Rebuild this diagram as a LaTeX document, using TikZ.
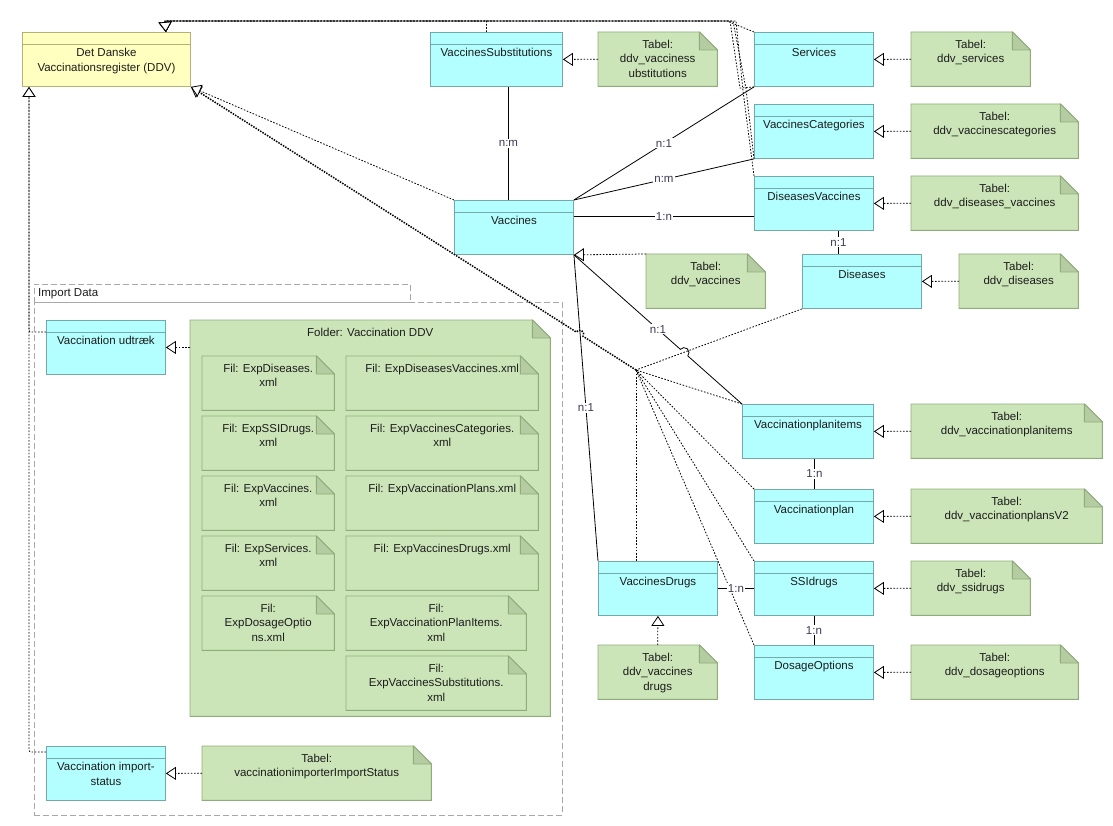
\documentclass[tikz,border=0pt]{standalone}
\usepackage{fontspec}
\setmainfont{Liberation Sans}
\usetikzlibrary{arrows.meta,calc}
\definecolor{clsfill}{HTML}{B3FFFF}
\definecolor{clsborder}{HTML}{74A9A9}
\definecolor{ddvfill}{HTML}{FFFFC0}
\definecolor{ddvborder}{HTML}{B2B276}
\definecolor{notefill}{HTML}{CCE5B8}
\definecolor{noteborder}{HTML}{8FAD7A}
\definecolor{foldfill}{HTML}{B5CCA2}
\definecolor{txtcol}{HTML}{1C1C1C}
\definecolor{lblcol}{HTML}{3A3A55}
\definecolor{pkgcol}{HTML}{A8A8A8}
\tikzset{
  txt/.style={font=\fontsize{11.5}{14.5}\selectfont, text=txtcol, align=center, inner sep=0pt},
  clsbox/.style={draw=clsborder, fill=clsfill, line width=0.9pt, inner sep=0pt, anchor=north west},
  ddvbox/.style={draw=ddvborder, fill=ddvfill, line width=0.9pt, inner sep=0pt, anchor=north west},
  notebody/.style={draw=noteborder, fill=notefill, line width=0.9pt},
  notefold/.style={draw=noteborder, fill=foldfill, line width=0.9pt, line join=round},
  dotline/.style={draw=black, line width=0.8pt, dash pattern=on 1.6pt off 1.6pt},
  trunk/.style={draw=black, line width=1.5pt, dash pattern=on 1.5pt off 1.2pt},
  assoc/.style={draw=black, line width=0.8pt},
  opentri/.style={-{Triangle[open, length=10pt, width=13pt, fill=white, line width=0.8pt]}},
  real/.style={dotline, opentri},
  gen/.style={dotline, opentri},
  mult/.style={font=\fontsize{11.5}{14}\selectfont, text=lblcol, fill=white, inner sep=1pt},
  pkgline/.style={draw=pkgcol, line width=0.9pt, dash pattern=on 6pt off 3pt}
}
\newcommand{\clsnode}[6]{%
  \node[clsbox, minimum width=#4pt, minimum height=#5pt] (#1) at (#2,#3) {};
  \draw[clsborder, line width=0.9pt] ([yshift=-12pt]#1.north west) -- ([yshift=-12pt]#1.north east);
  \node[txt, anchor=north] at ([yshift=-16pt]#1.north) {#6};
}
\newcommand{\notenode}[6]{%
  \node[inner sep=0pt, anchor=north west, minimum width=#4pt, minimum height=#5pt] (#1) at (#2,#3) {};
  \draw[notebody] (#1.north west) -- ([xshift=-18pt]#1.north east) -- ([yshift=-18pt]#1.north east) -- (#1.south east) -- (#1.south west) -- cycle;
  \draw[notefold] ([xshift=-18pt]#1.north east) -- ([xshift=-18pt,yshift=-18pt]#1.north east) -- ([yshift=-18pt]#1.north east) -- cycle;
  \node[txt, anchor=north] at ([yshift=-7.5pt]#1.north) {#6};
}
\begin{document}
\begin{tikzpicture}[x=1pt, y=-1pt]
\useasboundingbox[fill=white] (0,0) rectangle (1113,826);

% package Import Data
\node[pkgline, inner sep=0pt, anchor=north west, minimum width=376pt, minimum height=18pt] (pkgtab) at (34,284) {};
\node[pkgline, inner sep=0pt, anchor=north west, minimum width=528pt, minimum height=513pt] (pkg) at (34,302) {};
\node[txt, anchor=west] at ([xshift=4pt]pkgtab.west) {Import Data};

% DDV
\node[ddvbox, minimum width=168pt, minimum height=54pt] (ddv) at (22,32) {};
\draw[ddvborder, line width=0.9pt] ([yshift=-12pt]ddv.north west) -- ([yshift=-12pt]ddv.north east);
\node[txt, anchor=north] at ([yshift=-16pt]ddv.north) {Det Danske\\Vaccinationsregister (DDV)};

% classes
\clsnode{vs}{430}{32}{132}{54}{VaccinesSubstitutions}
\clsnode{services}{754}{32}{119}{54}{Services}
\clsnode{vc}{754}{104}{119}{54}{VaccinesCategories}
\clsnode{dv}{754}{176}{119}{54}{DiseasesVaccines}
\clsnode{vac}{454}{200}{119}{54}{Vaccines}
\clsnode{dis}{802}{254}{119}{54}{Diseases}
\clsnode{pi}{742}{404}{131}{54}{Vaccinationplanitems}
\clsnode{plan}{754}{489}{119}{54}{Vaccinationplan}
\clsnode{ssi}{754}{561}{119}{54}{SSIdrugs}
\clsnode{vd}{598}{561}{119}{54}{VaccinesDrugs}
\clsnode{dos}{754}{645}{119}{54}{DosageOptions}
\clsnode{udt}{46}{320}{119}{54}{Vaccination udtræk}
\clsnode{ist}{46}{746}{119}{54}{Vaccination import-\\status}

% notes
\notenode{nvs}{598}{32}{119}{54}{Tabel:\\ddv\_vacciness\\ubstitutions}
\notenode{nsv}{911}{32}{119}{54}{Tabel:\\ddv\_services}
\notenode{nvc}{911}{104}{167}{54}{Tabel:\\ddv\_vaccinescategories}
\notenode{ndv}{911}{176}{167}{54}{Tabel:\\ddv\_diseases\_vaccines}
\notenode{nvac}{646}{254}{119}{54}{Tabel:\\ddv\_vaccines}
\notenode{ndis}{959}{254}{119}{54}{Tabel:\\ddv\_diseases}
\notenode{npi}{911}{404}{191}{54}{Tabel:\\ddv\_vaccinationplanitems}
\notenode{nplan}{911}{489}{191}{54}{Tabel:\\ddv\_vaccinationplansV2}
\notenode{nssi}{911}{561}{119}{54}{Tabel:\\ddv\_ssidrugs}
\notenode{ndos}{911}{645}{167}{54}{Tabel:\\ddv\_dosageoptions}
\notenode{nvd}{598}{645}{119}{54}{Tabel:\\ddv\_vaccines\\drugs}
\notenode{nist}{202}{746}{229}{54}{Tabel:\\vaccinationimporterImportStatus}
\notenode{folder}{190}{320}{360}{396}{Folder: Vaccination DDV}
\notenode{f1}{202}{356}{132}{54}{Fil: ExpDiseases.\\xml}
\notenode{f2}{346}{356}{192}{54}{Fil: ExpDiseasesVaccines.xml}
\notenode{f3}{202}{416}{132}{54}{Fil: ExpSSIDrugs.\\xml}
\notenode{f4}{346}{416}{192}{54}{Fil: ExpVaccinesCategories.\\xml}
\notenode{f5}{202}{476}{132}{54}{Fil: ExpVaccines.\\xml}
\notenode{f6}{346}{476}{192}{54}{Fil: ExpVaccinationPlans.xml}
\notenode{f7}{202}{536}{132}{54}{Fil: ExpServices.\\xml}
\notenode{f8}{346}{536}{192}{54}{Fil: ExpVaccinesDrugs.xml}
\notenode{f9}{202}{596}{132}{54}{Fil:\\ExpDosageOptio\\ns.xml}
\notenode{f10}{346}{596}{180}{54}{Fil:\\ExpVaccinationPlanItems.\\xml}
\notenode{f11}{346}{656}{180}{54}{Fil:\\ExpVaccinesSubstitutions.\\xml}

% realizations
\draw[real] (nvs.west) -- (vs.east);
\draw[real] (nsv.west) -- (services.east);
\draw[real] (nvc.west) -- (vc.east);
\draw[real] (ndv.west) -- (dv.east);
\draw[real] (ndis.west) -- (dis.east);
\draw[real] (nvac.north west) -- (vac.south east);
\draw[real] (npi.west) -- (pi.east);
\draw[real] (nplan.west) -- (plan.east);
\draw[real] (nssi.west) -- (ssi.east);
\draw[real] (ndos.west) -- (dos.east);
\draw[real] (nvd.north) -- (vd.south);
\draw[real] (nist.west) -- (ist.east);
\draw[real] (folder.west |- udt.east) -- (udt.east);

% generalizations to DDV (top)
\coordinate (ddvtop) at ([xshift=-25pt]ddv.north east);
\coordinate (tl) at (165,21);
\draw[gen] ([xshift=-10pt]vs.north) |- (tl) -- (ddvtop);
\draw[gen] (services.north west) -- (727,21) -- (tl) -- (ddvtop);
\draw[gen] (services.south west) -- (740,88) -- (730,21) -- (tl) -- (ddvtop);
\draw[gen] (vc.south west) -- (746,89) -- (733,21) -- (tl) -- (ddvtop);
\draw[gen] (dv.north west) -- (743,91) -- (736,21) -- (tl) -- (ddvtop);

% generalizations to DDV (left)
\coordinate (ddvbl) at ([xshift=7pt]ddv.south west);
\draw[gen, rounded corners=2pt] ([yshift=-12pt]udt.north west) -| (ddvbl);
\draw[gen, rounded corners=2pt] ([yshift=-6pt]ist.north west) -| (ddvbl);

% generalizations to DDV (hub)
\coordinate (hub) at (636,370);
\draw[dotline] (dis.south west) -- (hub);
\draw[dotline] (pi.north west) -- (hub);
\draw[dotline] (plan.north west) -- (hub);
\draw[dotline] (vd.north -| hub) -- (hub);
\draw[dotline] (ssi.north west) -- (hub);
\draw[dotline] (dos.north west) -- (hub);
\draw[trunk, opentri] (hub) -- ($(hub)!0.119!(ddv.south east)$) arc[start angle=-32.5, end angle=147.5, radius=4pt] -- (ddv.south east);
\draw[gen] (vac.north west) -- (ddv.south east);

% associations
\draw[assoc] ([xshift=12pt]vs.south) -- ([xshift=12pt]vs.south |- vac.north) node[mult, midway] {n:m};
\draw[assoc] (vac.north east) -- (services.south west) node[mult, midway] {n:1};
\draw[assoc] (vac.north east) -- (vc.south west) node[mult, midway] {n:m};
\draw[assoc] ([yshift=11pt]vac.east) -- ([yshift=11pt]vac.east -| dv.west) node[mult, midway] {1:n};
\draw[assoc] ([xshift=24.5pt]dv.south) -- ([xshift=24.5pt]dv.south |- dis.north) node[mult, midway] {n:1};
\draw[assoc] (vac.south east) -- (vd.north west) node[mult, midway] {n:1};
\draw[assoc] (vac.south east) -- ($(vac.south east)!0.633!(pi.north west)$) arc[start angle=138.4, end angle=-41.6, radius=5pt] -- (pi.north west);
\path (vac.south east) -- (pi.north west) node[mult, midway] {n:1};
\draw[assoc] ([xshift=6.5pt]pi.south) -- ([xshift=6.5pt]pi.south |- plan.north) node[mult, midway] {1:n};
\draw[assoc] (vd.east) -- (ssi.west) node[mult, midway] {1:n};
\draw[assoc] (ssi.south) -- (dos.north) node[mult, midway] {1:n};
\end{tikzpicture}
\end{document}
